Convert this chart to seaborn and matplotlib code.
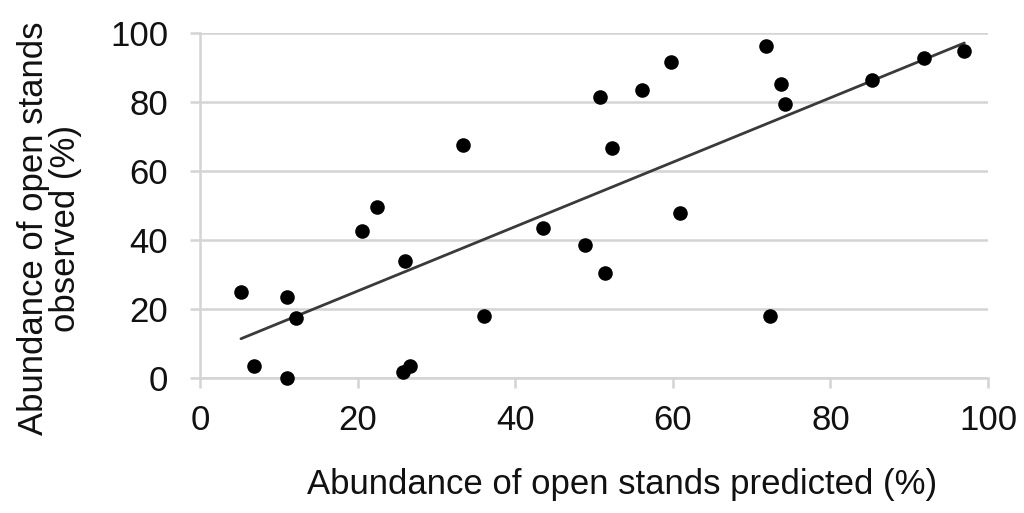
import numpy as np
import pandas as pd
import matplotlib
matplotlib.use("Agg")
import matplotlib.pyplot as plt
import seaborn as sns

predicted = [5.2, 6.9, 11.1, 11.1, 12.2, 20.5, 22.5, 25.7, 26.6, 26.0, 33.4, 36.1,
             43.5, 48.8, 51.4, 50.7, 52.3, 56.1, 59.8, 60.9, 71.8, 73.7, 74.3,
             72.3, 85.3, 91.9, 97.0]
observed = [24.9, 3.6, 0.0, 23.6, 17.4, 42.7, 49.5, 1.6, 3.4, 33.9, 67.4, 17.9,
            43.5, 38.6, 30.4, 81.5, 66.7, 83.4, 91.6, 47.8, 96.2, 85.2, 79.3,
            18.0, 86.3, 92.8, 94.8]
ticks = [0, 20, 40, 60, 80, 100]

df = pd.DataFrame({"predicted": predicted, "observed": observed})

sns.set_theme(style="white")
plt.rcParams['font.family'] = ['Liberation Sans', 'DejaVu Sans']

FS = 25
fig = plt.figure(figsize=(10.24, 5.13), dpi=100)
ax = fig.add_axes([200/1024, 1-378/513, 788/1024, 345/513])

ax.set_xlim(0, 100)
ax.set_ylim(0, 100)
ax.set_xticks(ticks)
ax.set_yticks(ticks)
ax.set_xticklabels([str(t) for t in ticks])
ax.set_yticklabels([str(t) for t in ticks])

ax.grid(axis='y', color='#d4d4d4', linewidth=1.8, zorder=0)
ax.grid(axis='x', visible=False)
for s in ['top', 'right']:
    ax.spines[s].set_visible(False)
for s in ['left', 'bottom']:
    ax.spines[s].set_color('#d4d4d4')
    ax.spines[s].set_linewidth(1.8)
ax.set_axisbelow(True)

ax.tick_params(axis='both', which='both', length=7, width=1.8, color='#d4d4d4',
               labelsize=FS, labelcolor='#111111', direction='out')
ax.tick_params(axis='x', bottom=True, pad=12)
ax.tick_params(axis='y', left=True, pad=16)

# trend line (OLS fit across data range)
slope, intercept = np.polyfit(df["predicted"], df["observed"], 1)
xs = np.array([df["predicted"].min(), df["predicted"].max()])
ax.plot(xs, slope * xs + intercept, color='#3a3a3a', linewidth=2.0, zorder=2)

sns.scatterplot(data=df, x="predicted", y="observed", ax=ax, color='black',
                s=110, edgecolor='black', linewidth=0, zorder=3, clip_on=False)

ax.set_xlabel("Abundance of open stands predicted (%)", fontsize=FS, color='#111111')
ax.set_ylabel("Abundance of open stands\nobserved (%)", fontsize=FS, color='#111111',
              linespacing=0.95)
ax.xaxis.set_label_coords((622-200)/788, (378-468)/345)
ax.yaxis.set_label_coords((82-200)/788, (378-228)/345)

fig.savefig("out.png", dpi=100)
